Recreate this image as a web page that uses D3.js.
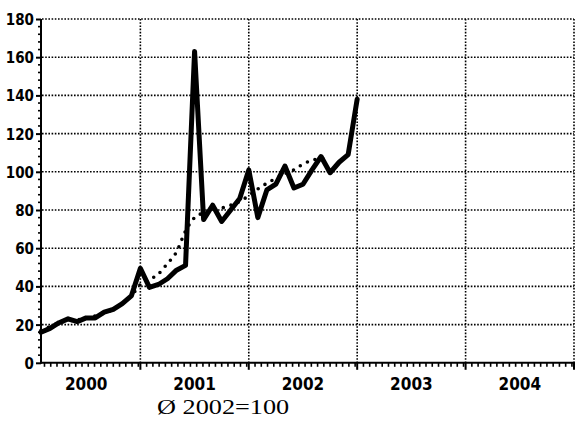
<!DOCTYPE html>
<html><head><meta charset="utf-8">
<script src="https://cdn.jsdelivr.net/npm/d3@7"></script>
<style>
html,body{margin:0;padding:0;background:#fff;}
svg{display:block;}
</style></head><body>
<svg id="chart" width="576" height="423"></svg>
<script>
// month-end observations, Jan 2000 .. Dec 2002
const months = ["2000-01","2000-02","2000-03","2000-04","2000-05","2000-06","2000-07","2000-08","2000-09","2000-10","2000-11","2000-12",
"2001-01","2001-02","2001-03","2001-04","2001-05","2001-06","2001-07","2001-08","2001-09","2001-10","2001-11","2001-12",
"2002-01","2002-02","2002-03","2002-04","2002-05","2002-06","2002-07","2002-08","2002-09","2002-10","2002-11","2002-12"];
const indexValues = [16,18,21,23,21.5,23.5,23.5,26.5,28,31,35,49.5,
39.5,41,44,48.5,51,163,75,82.5,74,80,86,101,
76,90.5,93.5,103,91.5,93.5,101,108,99.5,105,109,138];
const trendValues = [17,19,21,22,22.5,23.5,24.5,26,28,31,35,41,
43.5,46.5,52,58,69,76,78.5,80,81,82.5,84.5,87.5,
91,94,96.5,99,101,104,106,107,107];
const yearLabels = ["2000","2001","2002","2003","2004"];
const yTicks = [0,20,40,60,80,100,120,140,160,180];
const caption = "Ø 2002=100";

const labelFont = "'DejaVu Sans Condensed','Liberation Sans Narrow','Arial Narrow',sans-serif";
const svg = d3.select("#chart");
// month index: 1 = end of Jan 2000, 60 = end of Dec 2004
const x = d3.scaleLinear().domain([1,60]).range([41,574]);
const y = d3.scaleLinear().domain([0,180]).range([362.8,19]);
const monthIdx = (s)=>{const [yy,mm]=s.split("-").map(Number);return (yy-2000)*12+mm;};

// grid
const grid = svg.append("g").attr("stroke","#000").attr("stroke-width",1.6).attr("stroke-dasharray","1.6,1.6").attr("fill","none");
yTicks.filter(d=>d>0).forEach(d=>{
  grid.append("line").attr("x1",x(1)+1).attr("x2",x(60)).attr("y1",y(d)).attr("y2",y(d));
});
yearLabels.forEach((lbl,i)=>{
  const m=(i+1)*12;
  grid.append("line").attr("x1",x(m)).attr("x2",x(m)).attr("y1",y(180)).attr("y2",y(0));
});

// axes
const yAxis = d3.axisLeft(y).tickValues(yTicks).tickSize(5).tickPadding(2);
const gy = svg.append("g").attr("transform",`translate(${x(1)},0)`).call(yAxis);
gy.select(".domain").attr("stroke","#000").attr("stroke-width",2).attr("d",`M0,${y(180)}V${y(0)+1}`);
gy.selectAll(".tick line").attr("stroke","#000").attr("stroke-width",2);
gy.selectAll(".tick text").style("font-family",labelFont).style("font-weight","bold")
  .style("font-size","15px").style("fill","#000").attr("dy","0.36em");
const yMinor = d3.range(0,181,4).filter(d=>d%20!==0);
svg.append("g").selectAll("line").data(yMinor).join("line")
  .attr("x1",x(1)-3).attr("x2",x(1)).attr("y1",d=>y(d)).attr("y2",d=>y(d))
  .attr("stroke","#000").attr("stroke-width",1.6);

const gx = svg.append("g").attr("transform",`translate(0,${y(0)})`);
gx.append("line").attr("x1",x(1)-1).attr("x2",x(60)+1).attr("y1",0).attr("y2",0).attr("stroke","#000").attr("stroke-width",2);
const step = 12/17.33;
const xMinor=[];
for(let yr=0;yr<5;yr++){for(let k=1;k<17.3;k++){const m=yr*12+k*step; if(m>1.3) xMinor.push(m);} }
gx.selectAll("line.minor").data(xMinor).join("line").attr("class","minor")
  .attr("x1",d=>x(d)).attr("x2",d=>x(d)).attr("y1",0).attr("y2",4).attr("stroke","#000").attr("stroke-width",1.6);
gx.selectAll("line.major").data([12,24,36,48,60]).join("line").attr("class","major")
  .attr("x1",d=>x(d)).attr("x2",d=>x(d)).attr("y1",0).attr("y2",7).attr("stroke","#000").attr("stroke-width",2);
gx.selectAll("text").data(yearLabels).join("text")
  .attr("x",(d,i)=>x(i*12+6)).attr("y",27).attr("text-anchor","middle")
  .style("font-family",labelFont).style("font-weight","bold").style("font-size","17px").style("fill","#000").text(d=>d);

// trend (dotted)
const trendLine = d3.line().x((d,i)=>x(i+1)).y(d=>y(d)).curve(d3.curveMonotoneX);
svg.append("path").datum(trendValues).attr("d",trendLine).attr("fill","none")
  .attr("stroke","#000").attr("stroke-width",3.6).attr("stroke-linecap","round").attr("stroke-dasharray","0,8");

// index (solid)
const line = d3.line().x((d,i)=>x(monthIdx(months[i]))).y(d=>y(d));
svg.append("path").datum(indexValues).attr("d",line).attr("fill","none")
  .attr("stroke","#000").attr("stroke-width",5).attr("stroke-linejoin","round").attr("stroke-linecap","round");

svg.append("text").attr("transform","translate(157,414) scale(1.25,1)")
  .attr("font-family","'Liberation Serif','Times New Roman',serif")
  .attr("font-size","21px").attr("fill","#000").text(caption);
</script></body></html>
